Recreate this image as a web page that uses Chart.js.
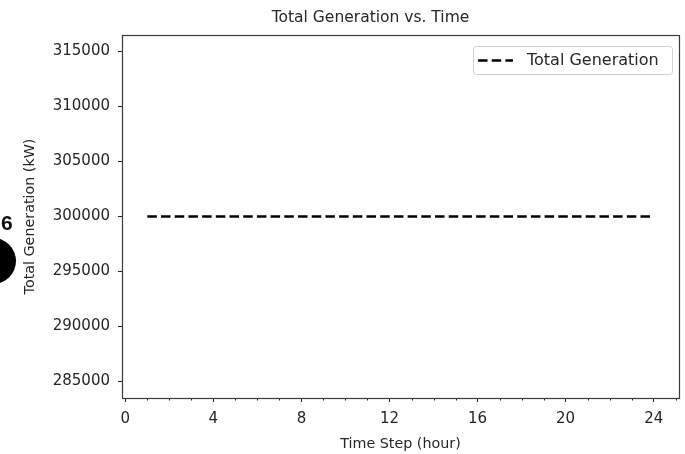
<!DOCTYPE html>
<html>
<head>
<meta charset="utf-8">
<script src="https://cdn.jsdelivr.net/npm/chart.js@4"></script>
<style>
  html, body { margin: 0; padding: 0; background: #fff; }
  #wrap { position: relative; width: 685px; height: 454px; overflow: hidden; }
  #badgeNum { position: absolute; left: 1px; top: 211px; font: bold 21px "Liberation Sans", Arial, sans-serif; color: #111; }
  #badgeDot { position: absolute; left: -30px; top: 238px; width: 46px; height: 46px; border-radius: 50%; background: #000; }
</style>
</head>
<body>
<div id="wrap">
  <canvas id="c" width="685" height="454"></canvas>
  <div id="badgeNum">6</div>
  <div id="badgeDot"></div>
</div>
<script>
// ---- data ----
const hours = [1,2,3,4,5,6,7,8,9,10,11,12,13,14,15,16,17,18,19,20,21,22,23,24];
const totalGeneration = [300000,300000,300000,300000,300000,300000,300000,300000,300000,300000,300000,300000,
                         300000,300000,300000,300000,300000,300000,300000,300000,300000,300000,300000,300000];
const seriesName = 'Total Generation';
const chartTitle = 'Total Generation vs. Time';
const xLabel = 'Time Step (hour)';
const yLabel = 'Total Generation (kW)';
const yTicks = [285000,290000,295000,300000,305000,310000,315000];
const xTicks = [0,4,8,12,16,20,24];

const FONT = "'DejaVu Sans', sans-serif";
const INK = '#262626';

const framePlugin = {
  id: 'frame',
  afterDraw(chart) {
    const {ctx, chartArea: a, scales} = chart;
    ctx.save();
    // minor ticks on x
    ctx.strokeStyle = INK; ctx.lineWidth = 1;
    const xs = scales.x;
    for (let v = 0; v <= 25; v++) {
      if (v % 4 === 0) continue;
      const px = Math.round(xs.getPixelForValue(v)) + 0.5;
      ctx.beginPath(); ctx.moveTo(px, a.bottom); ctx.lineTo(px, a.bottom + 2.5); ctx.stroke();
    }
    // frame
    ctx.strokeStyle = '#3a3a3a'; ctx.lineWidth = 1.2;
    ctx.strokeRect(Math.round(a.left) + 0.5, Math.round(a.top) + 0.5, Math.round(a.width), Math.round(a.height));
    // title
    ctx.fillStyle = INK;
    ctx.font = "15.5px " + FONT;
    ctx.textAlign = 'center'; ctx.textBaseline = 'middle';
    ctx.fillText(chartTitle, (a.left + a.right) / 2 - 30, 18);
    // legend box
    const ds = chart.data.datasets[0];
    const bx = a.right - 206, by = a.top + 11, bw = 199, bh = 28;
    ctx.strokeStyle = '#d0d0d0'; ctx.lineWidth = 1; ctx.fillStyle = 'rgba(255,255,255,0.8)';
    ctx.beginPath();
    if (ctx.roundRect) ctx.roundRect(bx + 0.5, by + 0.5, bw, bh, 3); else ctx.rect(bx + 0.5, by + 0.5, bw, bh);
    ctx.fill(); ctx.stroke();
    ctx.strokeStyle = ds.borderColor; ctx.lineWidth = ds.borderWidth;
    ctx.setLineDash(ds.borderDash);
    ctx.beginPath(); ctx.moveTo(bx + 5, by + 14.5); ctx.lineTo(bx + 40, by + 14.5); ctx.stroke();
    ctx.setLineDash([]);
    ctx.fillStyle = INK; ctx.font = "16px " + FONT;
    ctx.textAlign = 'left'; ctx.textBaseline = 'middle';
    ctx.fillText(ds.label, bx + 54, by + 14.5);
    ctx.restore();
  }
};

new Chart(document.getElementById('c'), {
  type: 'line',
  data: {
    datasets: [{
      label: seriesName,
      data: hours.map((h, i) => ({x: h, y: totalGeneration[i]})),
      borderColor: '#000',
      borderWidth: 2.3,
      borderDash: [9.5, 4.2],
      pointRadius: 0,
      fill: false,
      tension: 0
    }]
  },
  options: {
    responsive: false,
    animation: false,
    layout: { padding: { top: 35, right: 6, left: 0, bottom: 0 } },
    plugins: { legend: { display: false }, title: { display: false }, tooltip: { enabled: false } },
    scales: {
      x: {
        type: 'linear', position: 'bottom',
        min: -0.15, max: 25.15,
        afterBuildTicks(s) { s.ticks = xTicks.map(v => ({value: v})); },
        afterFit(s) { s.height = 56; },
        grid: { display: true, drawOnChartArea: false, drawTicks: true, tickLength: 4, tickColor: INK },
        border: { display: false },
        ticks: { font: { family: FONT, size: 15 }, color: INK, padding: 8, maxRotation: 0, callback: v => String(v) },
        title: { display: true, text: xLabel, font: { family: FONT, size: 14.3 }, color: INK, padding: { top: 0, bottom: 1.5 } }
      },
      y: {
        type: 'linear', position: 'left',
        min: 283500, max: 316500,
        afterBuildTicks(s) { s.ticks = yTicks.map(v => ({value: v})); },
        afterFit(s) { s.width = 122; },
        grid: { display: true, drawOnChartArea: false, drawTicks: true, tickLength: 4, tickColor: INK },
        border: { display: false },
        ticks: { font: { family: FONT, size: 15 }, color: INK, padding: 8, callback: v => String(v) },
        title: { display: true, text: yLabel, font: { family: FONT, size: 14.3 }, color: INK, padding: { top: 22, bottom: 0 } }
      }
    }
  },
  plugins: [framePlugin]
});
</script>
</body>
</html>
